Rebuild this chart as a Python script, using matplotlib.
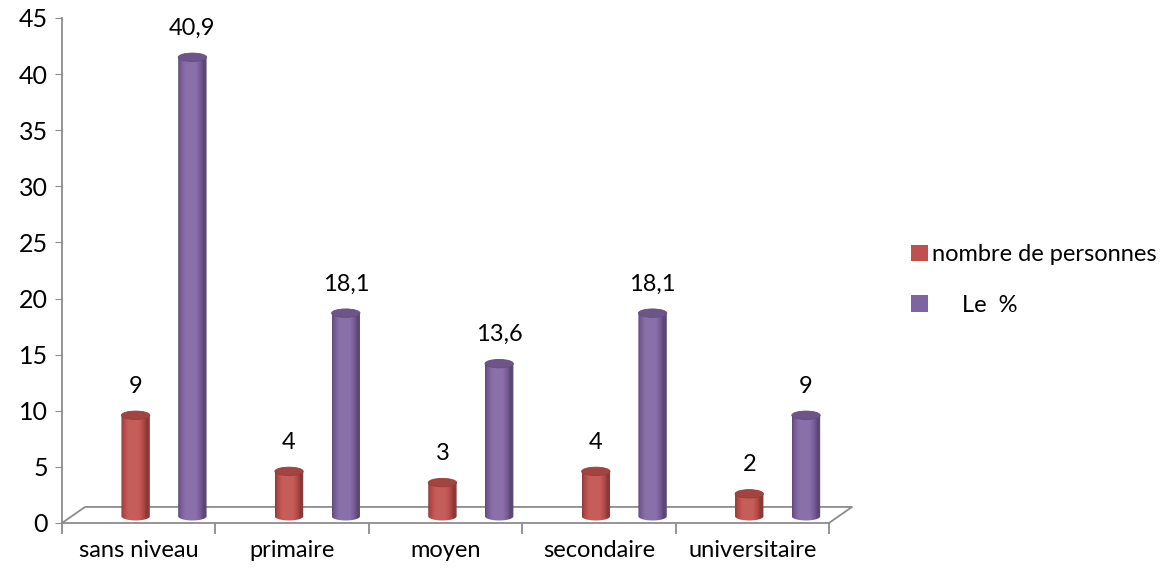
import numpy as np
import matplotlib.pyplot as plt
from matplotlib.patches import Ellipse, Patch
from matplotlib.colors import to_rgb

plt.rcParams['font.family'] = ['Lato', 'DejaVu Sans']

categories = ['sans niveau', 'primaire', 'moyen', 'secondaire', 'universitaire']
personnes = [9, 4, 3, 4, 2]
pourcent = [40.9, 18.1, 13.6, 18.1, 9]
series_names = ['nombre de personnes', '     Le  %']
colors = ['#C0504D', '#8064A2']
yticks = list(range(0, 50, 5))

# layout of the fake 3d floor / cylinders
depth_x, depth_y = 0.15, 1.43
base = 0.6
bar_w = 0.185
ell_h = 0.75
offsets = [0.48, 0.85]
fs = 17


def shade(c, f):
    r = np.array(to_rgb(c))
    if f >= 1:
        return tuple(r + (1 - r) * (f - 1))
    return tuple(r * f)


def cylinder(ax, xc, top, color):
    x0, x1 = xc - bar_w / 2, xc + bar_w / 2
    # body outline: rectangle plus lower half ellipse
    t = np.linspace(np.pi, 2 * np.pi, 40)
    bx = xc + bar_w / 2 * np.cos(t)
    by = base + ell_h / 2 * np.sin(t)
    verts = [(x0, top)] + list(zip(bx, by)) + [(x1, top)]
    # horizontal gradient
    u = np.linspace(0, 1, 64)
    prof = 0.72 + 0.42 * np.sin(np.pi * np.clip(u * 1.15, 0, 1)) ** 0.7
    prof = np.minimum(prof, 1.08)
    img = np.array([[shade(color, f) for f in prof]])
    im = ax.imshow(img, extent=(x0, x1, base - ell_h, top), aspect='auto',
                   interpolation='bilinear', zorder=3)
    patch = plt.Polygon(verts, closed=True, transform=ax.transData,
                        facecolor='none', edgecolor='none')
    ax.add_patch(patch)
    im.set_clip_path(patch)
    ax.add_patch(Ellipse((xc, top), bar_w, ell_h, facecolor=shade(color, 0.85),
                         edgecolor=shade(color, 0.78), lw=0.6, zorder=4))


fig = plt.figure(figsize=(11.76, 5.74), dpi=100)
ax = fig.add_axes([62 / 1176, 1 - 523 / 574, (829 - 62) / 1176, (523 - 18) / 574])
ax.set_xlim(0, len(categories))
ax.set_ylim(0, 45)

for i in range(len(categories)):
    for s, vals in enumerate([personnes, pourcent]):
        xc = i + offsets[s]
        top = vals[i] + base
        cylinder(ax, xc, top, colors[s])
        lab = ('%g' % vals[i]).replace('.', ',')
        ax.text(xc, top + 2.6, lab, ha='center', va='center', fontsize=fs,
                color='black', zorder=5)

# floor
gray = '#8c8c8c'
n = len(categories)
ax.plot([0, depth_x, n + depth_x, n], [0, depth_y, depth_y, 0], color=gray,
        lw=1.3, clip_on=False, zorder=2)

for sp in ['top', 'right']:
    ax.spines[sp].set_visible(False)
for sp in ['left', 'bottom']:
    ax.spines[sp].set_color(gray)
    ax.spines[sp].set_linewidth(1.3)

ax.set_yticks(yticks)
ax.tick_params(axis='y', length=5, color=gray, labelsize=18, pad=5)
ax.set_xticks(range(n + 1))
ax.set_xticklabels([])
ax.tick_params(axis='x', length=8, color=gray, width=1.3)
ax.set_xticks(np.arange(n) + 0.5, minor=True)
ax.set_xticklabels(categories, minor=True, fontsize=fs)
ax.tick_params(axis='x', which='minor', length=0, pad=12)

handles = [Patch(facecolor=c, edgecolor='none') for c in colors]
fig.legend(handles, series_names, loc='center left', frameon=False,
           bbox_to_anchor=(890 / 1176, 1 - 280 / 574), fontsize=fs,
           handlelength=0.7, handleheight=0.7, handletextpad=0.2,
           labelspacing=1.25)

fig.savefig('out.png', dpi=100)
